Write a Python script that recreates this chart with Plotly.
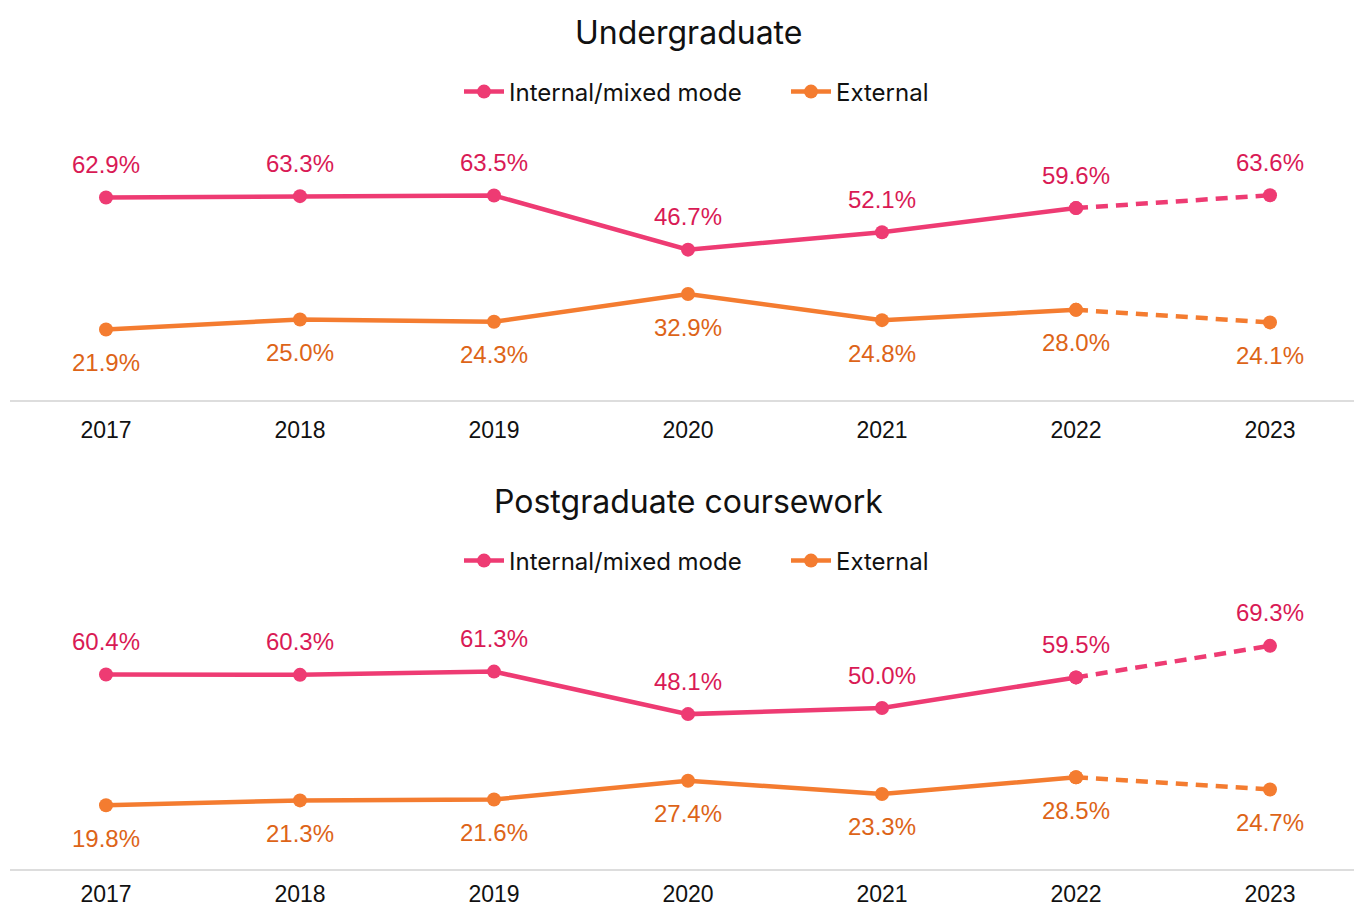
import plotly.graph_objects as go

years = ["2017", "2018", "2019", "2020", "2021", "2022", "2023"]
ug_internal = [62.9, 63.3, 63.5, 46.7, 52.1, 59.6, 63.6]
ug_external = [21.9, 25.0, 24.3, 32.9, 24.8, 28.0, 24.1]
pg_internal = [60.4, 60.3, 61.3, 48.1, 50.0, 59.5, 69.3]
pg_external = [19.8, 21.3, 21.6, 27.4, 23.3, 28.5, 24.7]
panel_titles = ["Undergraduate", "Postgraduate coursework"]
series_names = ["Internal/mixed mode", "External"]

PINK = "#EE3B73"
PINK_TXT = "#D91A55"
ORANGE = "#F47C30"
ORANGE_TXT = "#DD6418"
FONT = "Inter, Roboto, sans-serif"
LBLFONT = "'Liberation Sans', Arial, sans-serif"

W, H = 1354, 909
ML, MR, MT, MB = 10, 0, 0, 40
plot_w = W - ML - MR
plot_h = H - MT - MB
px_per_unit = 3.22
yr = 80
dom_h = yr * px_per_unit / plot_h
top_base = (plot_h - 400) / plot_h
x_start = -(106 - ML) / 194


def py(ref_y):
    return (plot_h - ref_y) / plot_h


def px(ref_x):
    return (ref_x - ML) / plot_w


fig = go.Figure()

panels = [
    (ug_internal, ug_external, "x", "y", "legend"),
    (pg_internal, pg_external, "x2", "y2", "legend2"),
]

for pi, (internal, external, xa, ya, leg) in enumerate(panels):
    for si, (vals, col, tcol, pos) in enumerate([
        (internal, PINK, PINK_TXT, 1),
        (external, ORANGE, ORANGE_TXT, -1),
    ]):
        fig.add_trace(go.Scatter(
            x=years[:-1], y=vals[:-1], mode="lines+markers",
            line=dict(color=col, width=4.5), marker=dict(size=14, color=col),
            name=series_names[si], legend=leg, xaxis=xa, yaxis=ya,
            hoverinfo="skip",
        ))
        fig.add_trace(go.Scatter(
            x=years[-2:], y=vals[-2:], mode="lines+markers",
            line=dict(color=col, width=4.5, dash="12px,8px"),
            marker=dict(size=14, color=col),
            showlegend=False, xaxis=xa, yaxis=ya, hoverinfo="skip",
        ))
        for i, v in enumerate(vals):
            fig.add_annotation(
                x=i, y=v, xref=xa, yref=ya, text=f"{v:.1f}%",
                showarrow=False, yshift=33 * pos,
                font=dict(family=LBLFONT, size=24, color=tcol),
            )
    fig.add_annotation(
        x=px(688), y=py(32 if pi == 0 else 501),
        xref="paper", yref="paper", text=panel_titles[pi], showarrow=False,
        xanchor="center", yanchor="middle",
        font=dict(family=FONT, size=32, color="#111111"),
    )

axis_x = dict(
    type="category", range=[x_start, x_start + plot_w / 194],
    showgrid=False, showline=True, linecolor="#dddddd", linewidth=2,
    ticks="", tickfont=dict(family=LBLFONT, size=23, color="#111111"),
    zeroline=False, fixedrange=True, automargin=False,
)
axis_y = dict(range=[0, yr], showgrid=False, showticklabels=False,
              zeroline=False, showline=False, fixedrange=True, automargin=False)

legend_common = dict(
    orientation="h", xanchor="center", yanchor="middle",
    x=px(786),
    font=dict(family=FONT, size=24, color="#111111"),
    bgcolor="rgba(0,0,0,0)", itemwidth=40, tracegroupgap=0,
    entrywidth=272,
)

fig.update_layout(
    width=W, height=H,
    margin=dict(l=ML, r=MR, t=MT, b=MB),
    paper_bgcolor="white", plot_bgcolor="white",
    xaxis=dict(axis_x, anchor="y", ticklabelstandoff=8),
    yaxis=dict(axis_y, domain=[top_base, top_base + dom_h], anchor="x"),
    xaxis2=dict(axis_x, anchor="y2", ticklabelstandoff=3),
    yaxis2=dict(axis_y, domain=[0, dom_h], anchor="x2"),
    legend=dict(legend_common, y=py(92)),
    legend2=dict(legend_common, y=py(561)),
    showlegend=True,
)

fig.write_html(
    "out.html",
    config={"displayModeBar": False},
    post_script="document.body.style.margin='0';document.body.style.overflow='hidden';",
)
